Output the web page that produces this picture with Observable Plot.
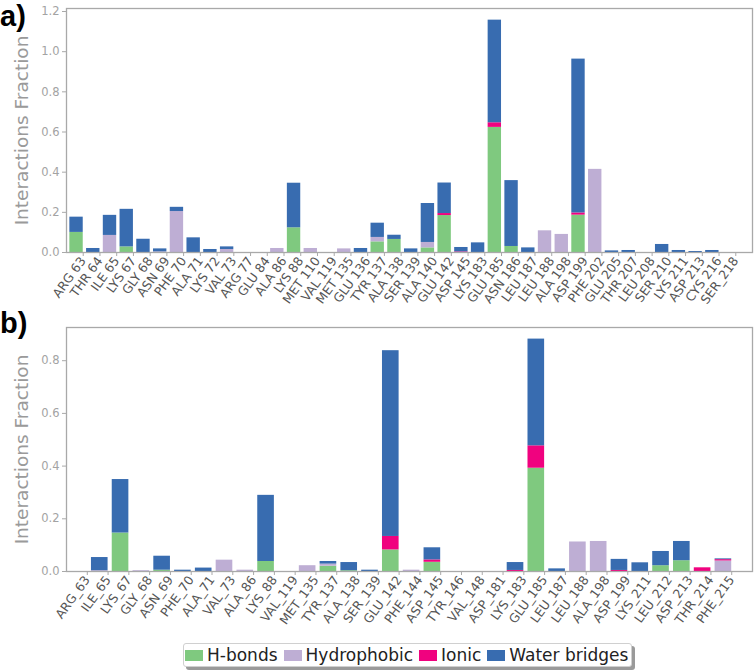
<!DOCTYPE html>
<html>
<head>
<meta charset="utf-8">
<script src="https://cdn.jsdelivr.net/npm/d3@7"></script>
<script src="https://cdn.jsdelivr.net/npm/@observablehq/plot@0.6"></script>
<style>
  html, body { margin: 0; padding: 0; background: #fff; }
  #root { position: relative; width: 754px; height: 670px; overflow: hidden; font-family: "DejaVu Sans", sans-serif; background: #fff; }
  .panel { position: absolute; left: 0; }
  .tag { position: absolute; left: 0px; font: bold 29px "Liberation Sans", Arial, sans-serif; line-height: 1; color: #000; z-index: 2; }
  #legend { position: absolute; left: 183px; top: 643px; width: 449px; height: 24px; border: 1px solid #d0d0d0; border-radius: 3px;
            box-shadow: 3px 3px 0 #9a9a9a; display: flex; align-items: center; box-sizing: border-box; padding-left: 1px;
            font: 17px "DejaVu Sans", sans-serif; color: #222; background: #fff; white-space: nowrap; }
  .item { display: flex; align-items: center; margin-right: 6px; flex-shrink: 0; }
  .sw { width: 18px; height: 11px; margin-right: 4px; flex-shrink: 0; }
</style>
</head>
<body>
<div id="root">
  <div class="tag" style="top:2px">a)</div>
  <div class="tag" style="top:309px">b)</div>
  <div id="legend"></div>
</div>
<script>
const types = ["H-bonds", "Hydrophobic", "Ionic", "Water bridges"];
const colors = ["#7fc97f", "#beaed4", "#f0027f", "#386cb0"];

// Panel a
const residuesA = ["ARG 63","THR 64","ILE 65","LYS 67","GLY 68","ASN 69","PHE 70","ALA 71","LYS 72","VAL 73",
  "ARG 77","GLU 84","ALA 86","LYS 88","MET 110","VAL 119","MET 135","GLU 136","TYR 137","ALA 138",
  "SER 139","ALA 140","GLU 142","ASP 145","LYS 183","GLU 185","ASN 186","LEU 187","LEU 188","ALA 198",
  "ASP 199","PHE 202","GLU 205","THR 207","LEU 208","SER 210","LYS 211","ASP 213","CYS 216","SER_218"];
const hbondsA = [0.10,0,0,0.028,0,0,0,0,0,0, 0,0,0,0.123,0,0,0,0,0.053,0.065, 0,0.023,0.184,0,0,0.623,0.03,0,0,0, 0.186,0,0,0,0,0,0,0,0,0];
const hydroA  = [0,0,0.085,0,0,0.003,0.204,0,0,0.015, 0,0,0.02,0,0.02,0,0.018,0,0.022,0, 0,0.027,0,0,0,0,0,0,0.108,0.09, 0,0.414,0,0,0,0,0,0,0,0];
const ionicA  = [0,0,0,0,0,0,0,0,0,0, 0,0,0,0,0,0,0,0,0,0, 0,0,0.01,0.003,0,0.023,0,0,0,0, 0.011,0,0,0,0,0,0,0,0,0];
const waterA  = [0.076,0.02,0.10,0.187,0.066,0.015,0.021,0.073,0.015,0.013, 0,0,0,0.222,0,0,0,0.02,0.071,0.021, 0.018,0.194,0.152,0.022,0.048,0.511,0.328,0.023,0,0, 0.766,0,0.008,0.01,0,0.04,0.01,0.005,0.01,0];

// Panel b
const residuesB = ["ARG_63","ILE_65","LYS_67","GLY_68","ASN_69","PHE_70","ALA_71","VAL_73","ALA_86","LYS_88",
  "VAL_119","MET_135","TYR_137","ALA_138","SER_139","GLU_142","PHE_144","ASP_145","TYR_146","VAL_148",
  "ASP_181","LYS_183","GLU_185","LEU_187","LEU_188","ALA_198","ASP_199","LYS_211","LEU_212","ASP_213",
  "THR_214","PHE_215"];
const hbondsB = [0,0,0.146,0,0.005,0,0,0,0,0.038, 0,0,0.02,0.003,0,0.082,0,0.035,0,0, 0,0,0.392,0,0,0,0,0,0.022,0.041, 0,0];
const hydroB  = [0,0.003,0,0.003,0,0,0,0.043,0.005,0, 0,0.022,0.008,0,0,0,0.005,0,0,0, 0,0,0,0,0.112,0.114,0,0,0,0, 0,0.04];
const ionicB  = [0,0,0,0,0,0,0,0,0,0, 0,0,0,0,0,0.051,0,0.009,0,0, 0,0.004,0.085,0,0,0,0.004,0,0,0, 0.014,0.005];
const waterB  = [0,0.05,0.203,0,0.053,0.005,0.013,0,0,0.251, 0,0,0.01,0.031,0.005,0.705,0,0.046,0,0, 0,0.030,0.405,0.01,0,0,0.042,0.033,0.054,0.073, 0,0.003];

const yTicksA = [0, 0.2, 0.4, 0.6, 0.8, 1.0, 1.2];
const yTicksB = [0, 0.2, 0.4, 0.6, 0.8];

function stackRows(series) {
  const rows = [];
  const n = series[0].length;
  for (let i = 0; i < n; i++) {
    let acc = 0;
    series.forEach((s, k) => {
      const v = s[i];
      if (v > 0) rows.push({i, type: types[k], y1: acc, y2: acc + v});
      acc += v;
    });
  }
  return rows;
}

function panel(labels, series, yMax, yTicks, height, mt, mb) {
  const rows = stackRows(series);
  const n = labels.length;
  return Plot.plot({
    width: 754, height,
    marginLeft: 66, marginRight: 2, marginTop: mt, marginBottom: mb,
    style: {fontFamily: "DejaVu Sans, sans-serif", background: "transparent"},
    x: {domain: [-1, n], axis: null},
    y: {domain: [0, yMax], axis: null},
    color: {domain: types, range: colors},
    marks: [
      Plot.rect(rows, {x1: d => d.i - 0.8, x2: "i", y1: "y1", y2: "y2", fill: "type"}),
      Plot.frame({stroke: "#a9a9a9", strokeWidth: 1.3}),
      Plot.axisY({ticks: yTicks, tickFormat: d3.format(".1f"), tickSize: 4, tickPadding: 3, fontSize: 11.5,
                  fill: "#a3a3a3", stroke: "#a9a9a9", label: null}),
      Plot.axisX({ticks: d3.range(n), tickFormat: i => labels[i], tickSize: 4, tickPadding: 2, tickRotate: -54,
                  fontSize: 12.5, fill: "#555", stroke: "#a9a9a9", label: null}),
      Plot.text(["Interactions Fraction"], {frameAnchor: "left", dx: -44, rotate: -90, textAnchor: "middle",
                  lineAnchor: "middle", fontSize: 18.5, fill: "#9a9a9a"})
    ]
  });
}

const root = document.getElementById("root");
const b = panel(residuesB, [hbondsB, hydroB, ionicB, waterB], 0.926, yTicksB, 325, 22, 59);
b.classList.add("panel"); b.style.top = "305px";
root.insertBefore(b, root.firstChild);
const a = panel(residuesA, [hbondsA, hydroA, ionicA, waterA], 1.215, yTicksA, 316, 8, 64);
a.classList.add("panel"); a.style.top = "0px";
root.insertBefore(a, b.nextSibling);

const legend = document.getElementById("legend");
types.forEach((t, k) => {
  const it = document.createElement("div");
  it.className = "item";
  const sw = document.createElement("div");
  sw.className = "sw"; sw.style.background = colors[k];
  const tx = document.createElement("span");
  tx.textContent = t;
  it.appendChild(sw); it.appendChild(tx);
  legend.appendChild(it);
});
</script>
</body>
</html>
